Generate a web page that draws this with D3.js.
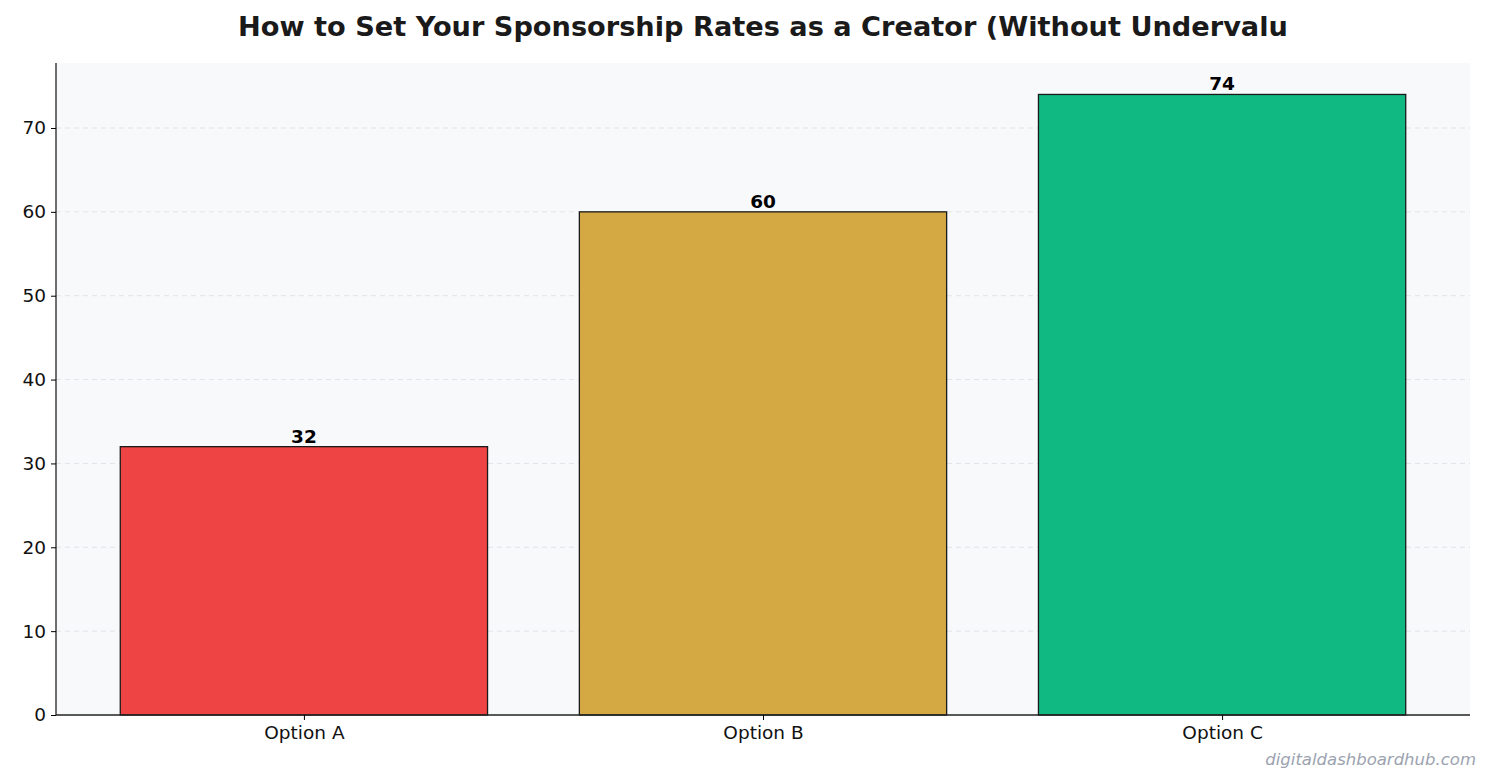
<!DOCTYPE html>
<html>
<head>
<meta charset="utf-8">
<script src="https://cdn.jsdelivr.net/npm/d3@7"></script>
<style>
  body { margin: 0; background: #fff; }
  text { font-family: "DejaVu Sans", sans-serif; }
</style>
</head>
<body>
<svg id="chart" width="1492" height="783"></svg>
<script>
// chart data
var categories = ["Option A", "Option B", "Option C"];
var values = [32, 60, 74];
var colors = ["#ef4444", "#d4a843", "#10b981"];
var yTicks = [0, 10, 20, 30, 40, 50, 60, 70];

var svg = d3.select("#chart");
var plotLeft = 56, plotRight = 1470, plotTop = 63, plotBottom = 715;

// matplotlib-like x limits: bars of width 0.8 plus 5% margins
var x = d3.scaleLinear().domain([-0.54, 2.54]).range([plotLeft, plotRight]);
var y = d3.scaleLinear().domain([0, 77.75]).range([plotBottom, plotTop]);
var barW = x(0.8) - x(0);

svg.append("rect")
  .attr("x", plotLeft).attr("y", plotTop)
  .attr("width", plotRight - plotLeft).attr("height", plotBottom - plotTop)
  .attr("fill", "#f8f9fb");

// grid lines
svg.selectAll(".grid").data(yTicks.slice(1)).enter()
  .append("line")
  .attr("x1", plotLeft).attr("x2", plotRight)
  .attr("y1", d => y(d)).attr("y2", d => y(d))
  .attr("stroke", "#e1e4e8").attr("stroke-dasharray", "5,4").attr("stroke-width", 1);

// bars
svg.selectAll(".bar").data(values).enter()
  .append("rect")
  .attr("x", (d, i) => x(i) - barW / 2)
  .attr("y", d => y(d))
  .attr("width", barW)
  .attr("height", d => plotBottom - y(d))
  .attr("fill", (d, i) => colors[i])
  .attr("stroke", "#1a1a1a").attr("stroke-width", 1.3);

// value labels
svg.selectAll(".lbl").data(values).enter()
  .append("text")
  .attr("x", (d, i) => x(i))
  .attr("y", d => y(d) - 4)
  .attr("text-anchor", "middle")
  .attr("font-size", 18.5).attr("font-weight", "bold")
  .text(d => d);

// axes
var yAxis = d3.axisLeft(y).tickValues(yTicks).tickSize(5).tickPadding(5);
var gy = svg.append("g").attr("transform", `translate(${plotLeft},0)`).call(yAxis);
gy.selectAll("text").attr("font-size", 18.5).attr("fill", "#111");

var xAxis = d3.axisBottom(x).tickValues([0, 1, 2]).tickFormat((d, i) => categories[i]).tickSize(5).tickPadding(6);
var gx = svg.append("g").attr("transform", `translate(0,${plotBottom})`).call(xAxis);
gx.selectAll("text").attr("font-size", 18.5).attr("fill", "#111");
gx.select(".domain").attr("d", `M${plotLeft},0H${plotRight}`);
gy.select(".domain").attr("d", `M0,${plotTop}V${plotBottom}`);
svg.selectAll(".domain").attr("stroke", "#222").attr("stroke-width", 1.3);

// title
svg.append("text")
  .attr("x", 763).attr("y", 36)
  .attr("text-anchor", "middle")
  .attr("font-size", 27.2).attr("font-weight", "bold").attr("fill", "#1a1a1a")
  .text("How to Set Your Sponsorship Rates as a Creator (Without Undervalu");

// watermark
svg.append("text")
  .attr("x", 1476).attr("y", 765)
  .attr("text-anchor", "end")
  .attr("font-size", 16.5).attr("font-style", "italic").attr("fill", "#9ca3af")
  .text("digitaldashboardhub.com");
</script>
</body>
</html>
